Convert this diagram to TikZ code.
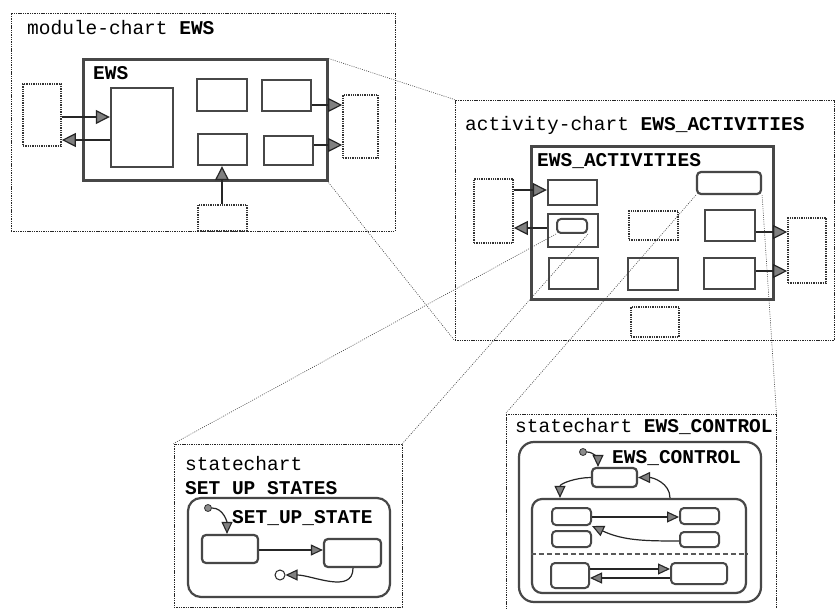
\documentclass[tikz,border=0pt]{standalone}
\usepackage{fontspec}
\setmonofont{Liberation Mono}
\usetikzlibrary{arrows.meta,fit}
\begin{document}
\begin{tikzpicture}[x=1pt,y=-1pt,
  frame/.style={draw=black!85, line width=0.9pt, dash pattern=on 1.4pt off 0.9pt, inner sep=0pt},
  ext/.style={draw=black!80, line width=1.7pt, dash pattern=on 1.3pt off 1pt, inner sep=0pt},
  blk/.style={draw=black!72, line width=2.4pt, inner sep=0pt},
  bigblk/.style={blk, line width=3pt},
  st/.style={blk, line width=2.2pt, rounded corners=4pt},
  link/.style={draw=black!75, line width=0.6pt, dash pattern=on 0.9pt off 1.3pt},
  arr/.style={draw=black!85, line width=1.4pt, -{Triangle[length=14pt,width=14pt,fill=black!50,line width=1.2pt]}},
  sarr/.style={draw=black!85, line width=1.2pt, -{Triangle[length=12pt,width=11pt,fill=black!50,line width=1.1pt]}},
  ttl/.style={anchor=base west, inner sep=0pt, font=\ttfamily\fontsize{19.5}{20}\selectfont},
  initdot/.style={circle, draw=black!80, fill=black!45, line width=0.8pt, minimum size=7pt, inner sep=0pt},
  divider/.style={draw=black!65, line width=2pt, dash pattern=on 5pt off 3pt},
]
\fill[white] (0,0) rectangle (837,609);
\useasboundingbox (0,0) rectangle (837,609);

% ---------------- module chart ----------------
\node[frame, fit={(11,13)(395,231)}] (mframe) {};
\node[ttl] (mtitle) at (27,35) {module-chart \textbf{EWS}};
\node[bigblk, fit={(83,60)(327,181)}] (ews) {};
\node[ttl] (ewslbl) at (93,80) {\textbf{EWS}};
\node[blk, fit={(111,88)(173,167)}] (m1) {};
\node[blk, fit={(197,79)(247,111)}] (m2) {};
\node[blk, fit={(262,80)(311,111)}] (m3) {};
\node[blk, fit={(198,134)(247,165)}] (m4) {};
\node[blk, fit={(264,136)(313,165)}] (m5) {};
\node[ext, fit={(23,84)(61,146)}] (mx1) {};
\node[ext, fit={(343,95)(378,158)}] (mx2) {};
\node[ext, fit={(198,205)(247,231)}] (mx3) {};
\draw[arr] (mx1.east |- 0,117) -- (m1.west |- 0,117);
\draw[arr] (m1.west |- 0,140) -- (mx1.east |- 0,140);
\draw[arr] (m3.east |- 0,105) -- (mx2.west |- 0,105);
\draw[arr] (m5.east |- 0,145) -- (mx2.west |- 0,145);
\draw[arr] (mx3.north -| 222,0) -- (m4.south -| 222,0);

% ---------------- activity chart ----------------
\node[frame, fit={(455,100)(834,340)}] (aframe) {};
\node[ttl] (atitle) at (465,131) {activity-chart \textbf{EWS\_ACTIVITIES}};
\node[bigblk, fit={(531,147)(773,300)}] (acts) {};
\node[ttl] (actslbl) at (537,167) {\textbf{EWS\_ACTIVITIES}};
\node[blk, fit={(548,180)(597,205)}] (a1) {};
\node[st, fit={(697,172)(761,194)}] (actl) {};
\node[blk, fit={(548,214)(598,247)}] (a2) {};
\node[st, line width=2pt, fit={(557,219)(587,233)}] (asub) {};
\node[ext, fit={(629,211)(678,240)}] (a3) {};
\node[blk, fit={(705,210)(755,241)}] (a4) {};
\node[blk, fit={(549,258)(598,289)}] (a5) {};
\node[blk, fit={(628,258)(678,290)}] (a6) {};
\node[blk, fit={(704,258)(755,289)}] (a7) {};
\node[ext, fit={(474,179)(513,243)}] (ax1) {};
\node[ext, fit={(788,218)(826,283)}] (ax2) {};
\node[ext, fit={(631,307)(679,337)}] (ax3) {};
\draw[arr] (ax1.east |- 0,190) -- (a1.west |- 0,190);
\draw[arr] (a2.west |- 0,228) -- (ax1.east |- 0,228);
\draw[arr] (a4.east |- 0,232) -- (ax2.west |- 0,232);
\draw[arr] (a7.east |- 0,271) -- (ax2.west |- 0,271);

% ---------------- statechart SET UP STATES ----------------
\node[frame, fit={(174,444)(402,607)}] (sframe) {};
\node[ttl] (stitle1) at (185,470) {statechart};
\node[ttl] (stitle2) at (185,494) {\textbf{SET UP STATES}};
\node[st, rounded corners=13pt, fit={(188,498)(390,597)}] (sus) {};
\node[ttl] (suslbl) at (232,523) {\textbf{SET\_UP\_STATE}};
\node[st, fit={(202,535)(258,563)}] (s1) {};
\node[st, fit={(324,539)(381,567)}] (s2) {};
\node[initdot] (sinit) at (208,508) {};
\node[circle, draw=black!85, line width=1pt, minimum size=10pt, inner sep=0pt] (sterm) at (280,575) {};
\draw[sarr] (sinit) to[out=0,in=90] (s1.north -| 227,0);
\draw[sarr] (s1.east |- 0,550) -- (s2.west |- 0,550);
\draw[sarr] (s2.south -| 353,0) to[out=-90,in=0] (sterm);

% ---------------- statechart EWS_CONTROL ----------------
\node[frame, fit={(506,414)(776,616)}] (cframe) {};
\node[ttl] (ctitle) at (515,432) {statechart \textbf{EWS\_CONTROL}};
\node[st, rounded corners=15pt, fit={(519,442)(761,602)}] (ctl) {};
\node[ttl] (ctllbl) at (612,463) {\textbf{EWS\_CONTROL}};
\node[initdot] (cinit) at (583,452) {};
\node[st, fit={(592,468)(637,487)}] (ctop) {};
\node[st, rounded corners=10pt, fit={(532,499)(746,593)}] (cin) {};
\draw[divider] (cin.west |- 0,554) -- (cin.east |- 0,554);
\node[st, line width=2pt, fit={(552,508)(591,525)}] (c1) {};
\node[st, line width=2pt, fit={(552,531)(591,547)}] (c2) {};
\node[st, line width=2pt, fit={(680,508)(719,524)}] (c3) {};
\node[st, line width=2pt, fit={(680,532)(719,547)}] (c4) {};
\node[st, line width=2pt, fit={(551,563)(589,588)}] (c5) {};
\node[st, line width=2pt, fit={(671,563)(727,584)}] (c6) {};
\draw[sarr] (cinit) to[out=0,in=90] (ctop.north -| 598,0);
\draw[sarr] (ctop.west) to[out=180,in=90] (cin.north -| 560,0);
\draw[sarr] (cin.north -| 670,0) to[out=90,in=0] (ctop.east);
\draw[sarr] (c1.east |- 0,517) -- (c3.west |- 0,517);
\draw[sarr] (c4.west |- 0,541) to[out=180,in=-25] (c1.south east);
\draw[sarr] (c5.east |- 0,569) -- (c6.west |- 0,569);
\draw[sarr] (c6.west |- 0,578) -- (c5.east |- 0,578);

% ---------------- zoom links between charts ----------------
\draw[link] (ews.north east) -- (aframe.north west);
\draw[link] (ews.south east) -- (aframe.south west);
\draw[link] (asub.south west) -- (sframe.north west);
\draw[link] (asub.south east) -- (sframe.north east);
\draw[link] (actl.south west) -- (cframe.north west);
\draw[link] (actl.south east) -- (cframe.north east);
\end{tikzpicture}
\end{document}
